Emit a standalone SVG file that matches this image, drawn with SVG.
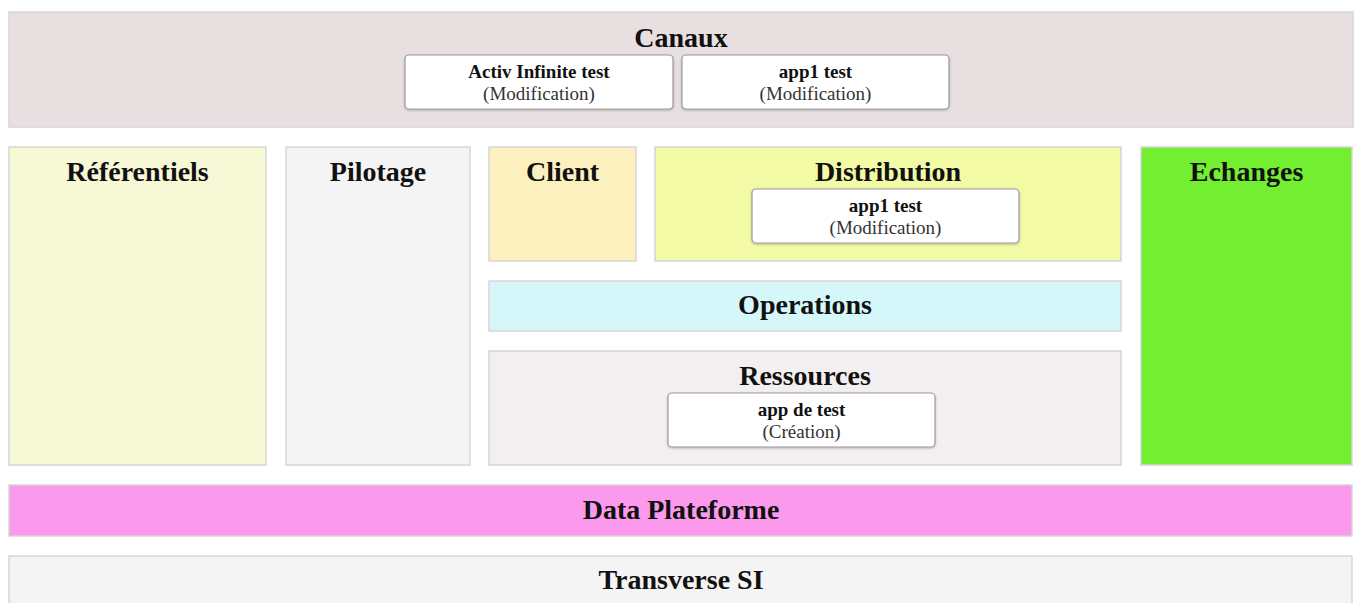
<svg xmlns="http://www.w3.org/2000/svg" width="1354" height="603" viewBox="0 0 1354 603">
<style>
.zone{stroke:#d6d6d6;stroke-width:1.5}
.title{font-family:"Liberation Serif","Times New Roman",serif;font-weight:bold;font-size:28px;fill:#111;text-anchor:middle}
.app{fill:#fff;stroke:#9a9a9a;stroke-width:1.2}
.appname{font-family:"Liberation Serif","Times New Roman",serif;font-weight:bold;font-size:19px;fill:#111;text-anchor:middle}
.appstate{font-family:"Liberation Serif","Times New Roman",serif;font-size:19px;fill:#333;text-anchor:middle}
</style>
<defs>
<filter id="sh" x="-5%" y="-10%" width="110%" height="130%">
<feDropShadow dx="0" dy="1" stdDeviation="1" flood-color="#000" flood-opacity="0.25"/>
</filter>
</defs>
<rect width="1354" height="603" fill="#fff"/>
<g id="canaux">
<rect class="zone" x="9" y="12" width="1344" height="115" fill="#e8dfe0"/>
<text class="title" x="681" y="47">Canaux</text>
</g>
<g id="canaux-activ">
<rect class="app" x="405" y="55" width="268" height="54" rx="4" filter="url(#sh)"/>
<text class="appname" x="539" y="78">Activ Infinite test</text>
<text class="appstate" x="539" y="100">(Modification)</text>
</g>
<g id="canaux-app1">
<rect class="app" x="682" y="55" width="267" height="54" rx="4" filter="url(#sh)"/>
<text class="appname" x="815.5" y="78">app1 test</text>
<text class="appstate" x="815.5" y="100">(Modification)</text>
</g>
<g id="referentiels">
<rect class="zone" x="9" y="147" width="257" height="318" fill="#f7f8d6"/>
<text class="title" x="137.5" y="181">Référentiels</text>
</g>
<g id="pilotage">
<rect class="zone" x="286" y="147" width="184" height="318" fill="#f4f4f4"/>
<text class="title" x="378" y="181">Pilotage</text>
</g>
<g id="client">
<rect class="zone" x="489" y="147" width="147" height="114" fill="#fdf0bf"/>
<text class="title" x="562.5" y="181">Client</text>
</g>
<g id="distribution">
<rect class="zone" x="655" y="147" width="466" height="114" fill="#f2faa6"/>
<text class="title" x="888" y="181">Distribution</text>
</g>
<g id="distribution-app1">
<rect class="app" x="752" y="189" width="267" height="54" rx="4" filter="url(#sh)"/>
<text class="appname" x="885.5" y="212">app1 test</text>
<text class="appstate" x="885.5" y="234">(Modification)</text>
</g>
<g id="operations">
<rect class="zone" x="489" y="281" width="632" height="50" fill="#d6f7f9"/>
<text class="title" x="805" y="314">Operations</text>
</g>
<g id="ressources">
<rect class="zone" x="489" y="351" width="632" height="114" fill="#f3eff0"/>
<text class="title" x="805" y="385">Ressources</text>
</g>
<g id="ressources-app">
<rect class="app" x="668" y="393" width="267" height="54" rx="4" filter="url(#sh)"/>
<text class="appname" x="801.5" y="416">app de test</text>
<text class="appstate" x="801.5" y="438">(Création)</text>
</g>
<g id="echanges">
<rect class="zone" x="1141" y="147" width="211" height="318" fill="#73ee30"/>
<text class="title" x="1246.5" y="181">Echanges</text>
</g>
<g id="data-plateforme">
<rect class="zone" x="9" y="485" width="1343" height="51" fill="#fb9aec"/>
<text class="title" x="681" y="519">Data Plateforme</text>
</g>
<g id="transverse-si">
<rect class="zone" x="9" y="556" width="1343" height="60" fill="#f4f4f4"/>
<text class="title" x="681" y="589">Transverse SI</text>
</g>
<g id="connectors"></g>
</svg>
